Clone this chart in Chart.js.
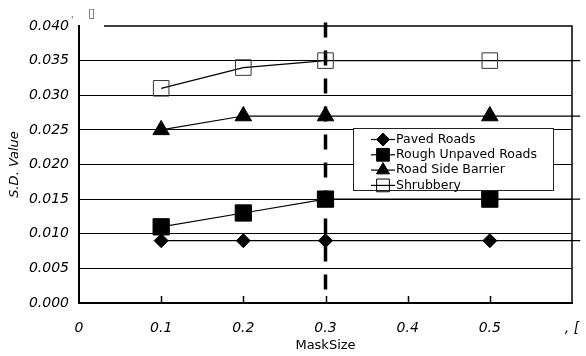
<!DOCTYPE html>
<html>
<head>
<meta charset="utf-8">
<script src="https://cdn.jsdelivr.net/npm/chart.js@4.4.0/dist/chart.umd.min.js"></script>
<style>
  html, body { margin: 0; padding: 0; background: #fff; }
  #wrap { width: 586px; height: 356px; position: relative; }
</style>
</head>
<body>
<div id="wrap"><canvas id="Chart"></canvas></div>
<script>
// data
const maskSizes = [0.1, 0.2, 0.3, 0.5];
const pavedRoads = [0.009, 0.009, 0.009, 0.009];
const roughUnpavedRoads = [0.011, 0.013, 0.015, 0.015];
const roadSideBarrier = [0.025, 0.027, 0.027, 0.027];
const shrubbery = [0.031, 0.034, 0.035, 0.035];
const seriesNames = ["Paved Roads", "Rough Unpaved Roads", "Road Side Barrier", "Shrubbery"];
const lineEndX = 0.61;          // the lines run on flat past the last point to the edge
const cutoffX = 0.3;            // dashed vertical marker
const cutoffY = [0.0405, 0.0019];
const xTicks = [0, 0.1, 0.2, 0.3, 0.4, 0.5, 0.6];
const xTickLabels = ["0", "0.1", "0.2", "0.3", "0.4", "0.5", ", ["];
const yTicks = [0, 0.005, 0.01, 0.015, 0.02, 0.025, 0.03, 0.035, 0.04];
const yTickLabels = ["0.000", "0.005", "0.010", "0.015", "0.020", "0.025", "0.030", "0.035", "0.040"];

const seriesValues = [pavedRoads, roughUnpavedRoads, roadSideBarrier, shrubbery];
const fontName = "DejaVu Sans";

const markerStyles = [
  { style: "rectRot", radius: 7, legendRadius: 6.5, fill: "#000" },
  { style: "rect", radius: 11.5, legendRadius: 9, fill: "#000" },
  { style: "triangle", radius: 9.5, legendRadius: 7.5, fill: "#000" },
  { style: "rect", radius: 11, legendRadius: 9, fill: "rgba(0,0,0,0)" }
];

function seriesPoints(values) {
  const pts = maskSizes.map((x, i) => ({ x: x, y: values[i] }));
  pts.push({ x: lineEndX, y: values[values.length - 1] });
  return pts;
}

const datasets = seriesValues.map((vals, i) => ({
  label: seriesNames[i],
  data: seriesPoints(vals),
  borderColor: "#000",
  borderWidth: 1.2,
  pointStyle: markerStyles[i].style,
  pointRadius: maskSizes.map(() => markerStyles[i].radius).concat([0]),
  pointBackgroundColor: markerStyles[i].fill,
  pointBorderColor: i === 3 ? "#333" : "#000",
  pointBorderWidth: 1,
  clip: false,
  tension: 0
}));

datasets.push({
  label: "cutoff",
  data: cutoffY.map(y => ({ x: cutoffX, y: y })),
  borderColor: "#000",
  borderWidth: 3.5,
  borderDash: [15, 13],
  pointRadius: 0,
  clip: false
});

function drawMarker(ctx, style, r, x, y) {
  ctx.beginPath();
  if (style === "rectRot") {
    ctx.moveTo(x - r, y); ctx.lineTo(x, y - r); ctx.lineTo(x + r, y); ctx.lineTo(x, y + r);
  } else if (style === "rect") {
    const s = r * Math.SQRT1_2;
    ctx.rect(x - s, y - s, 2 * s, 2 * s);
  } else if (style === "triangle") {
    const h = r * Math.sin(Math.PI / 3);
    ctx.moveTo(x, y - r); ctx.lineTo(x - h, y + r / 2); ctx.lineTo(x + h, y + r / 2);
  }
  ctx.closePath();
  ctx.fill();
  ctx.stroke();
}

const framePlugin = {
  id: "frame",
  afterDatasetsDraw(chart) {
    const { ctx, chartArea: a, scales } = chart;
    ctx.save();
    ctx.strokeStyle = "#000";
    ctx.lineWidth = 1.5;
    ctx.beginPath();
    xTicks.slice(1, -1).forEach(v => {
      const px = Math.round(scales.x.getPixelForValue(v)) + 0.5;
      ctx.moveTo(px, a.bottom);
      ctx.lineTo(px, a.bottom - 7);
    });
    ctx.moveTo(a.right, a.bottom);
    ctx.lineTo(a.right, a.top);
    ctx.lineTo(a.left + 25, a.top);
    ctx.stroke();

    // legend box
    const lx = 353, ly = 128, lw = 200, lh = 62;
    ctx.fillStyle = "#fff";
    ctx.fillRect(lx, ly, lw, lh);
    ctx.lineWidth = 1;
    ctx.strokeStyle = "#222";
    ctx.strokeRect(lx + 0.5, ly + 0.5, lw, lh);
    ctx.font = "12.5px '" + fontName + "'";
    ctx.textBaseline = "middle";
    ctx.textAlign = "left";
    seriesNames.forEach((name, i) => {
      const y = 139.5 + i * 15.3;
      ctx.strokeStyle = "#000";
      ctx.lineWidth = 1.2;
      ctx.beginPath();
      ctx.moveTo(371, y);
      ctx.lineTo(395, y);
      ctx.stroke();
      ctx.fillStyle = markerStyles[i].fill;
      ctx.lineWidth = 1;
      drawMarker(ctx, markerStyles[i].style, markerStyles[i].legendRadius, 383, y);
      ctx.fillStyle = "#000";
      ctx.fillText(name, 396, y);
    });

    // stray glyphs near the top-left corner
    ctx.fillStyle = "#555";
    ctx.font = "13px '" + fontName + "'";
    ctx.fillText("\u25AF", 88, 14);
    ctx.font = "9px '" + fontName + "'";
    ctx.fillText("'", 71, 21);
    ctx.restore();
  }
};

new Chart("Chart", {
  type: "line",
  data: { datasets: datasets },
  options: {
    responsive: true,
    maintainAspectRatio: false,
    animation: false,
    events: [],
    layout: { padding: { left: 0, top: 26, right: 14, bottom: 0 } },
    plugins: {
      legend: { display: false },
      tooltip: { enabled: false }
    },
    scales: {
      x: {
        type: "linear",
        min: 0,
        max: 0.6,
        afterBuildTicks: s => { s.ticks = xTicks.map(v => ({ value: v })); },
        afterFit: s => { s.height = 53; s.paddingRight = 0; s.paddingLeft = 0; },
        grid: { display: false, drawTicks: false },
        border: { display: true, color: "#000", width: 2 },
        ticks: {
          autoSkip: false,
          maxRotation: 0,
          padding: 17,
          color: "#000",
          font: { family: fontName, size: 14, style: "italic" },
          callback: (v, i) => xTickLabels[i]
        },
        title: {
          display: true,
          text: "MaskSize",
          color: "#000",
          padding: { top: 0, bottom: 3 },
          font: { family: fontName, size: 13 }
        }
      },
      y: {
        type: "linear",
        min: 0,
        max: 0.04,
        afterBuildTicks: s => { s.ticks = yTicks.map(v => ({ value: v })); },
        afterFit: s => { s.width = 79; },
        grid: {
          drawTicks: false,
          lineWidth: 1,
          color: c => (c.index === yTicks.length - 1 ? "rgba(0,0,0,0)" : "#000")
        },
        border: { display: true, color: "#000", width: 2 },
        ticks: {
          padding: 10,
          color: "#000",
          font: { family: fontName, size: 14, style: "italic" },
          callback: (v, i) => yTickLabels[i]
        },
        title: {
          display: true,
          text: "S.D. Value",
          color: "#000",
          padding: { top: 7, bottom: 0 },
          font: { family: fontName, size: 13, style: "italic" }
        }
      }
    }
  },
  plugins: [framePlugin]
});
</script>
</body>
</html>
